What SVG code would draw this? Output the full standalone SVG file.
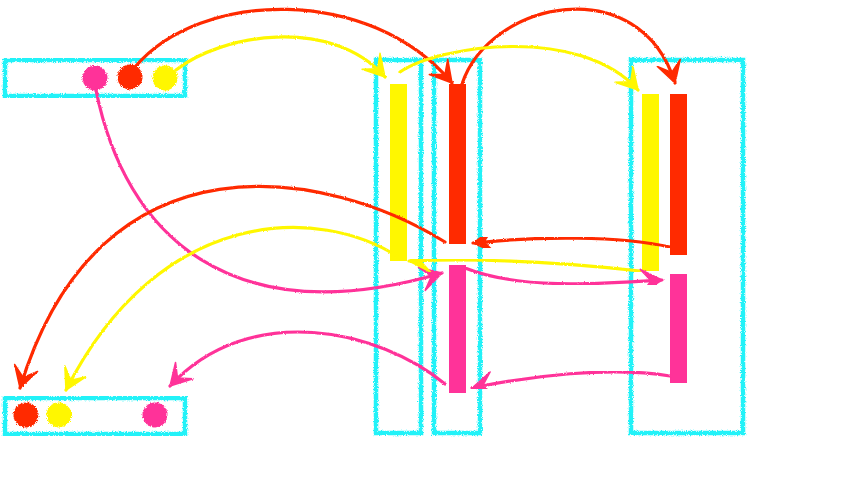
<svg xmlns="http://www.w3.org/2000/svg" width="850" height="488" viewBox="0 0 850 488">
<defs>
<filter id="rough" x="-5%" y="-5%" width="110%" height="110%">
<feTurbulence type="fractalNoise" baseFrequency="1.2" numOctaves="2" seed="3" result="n"/>
<feDisplacementMap in="SourceGraphic" in2="n" scale="4" xChannelSelector="R" yChannelSelector="G"/>
</filter>
<filter id="roughline" x="-5%" y="-5%" width="110%" height="110%">
<feTurbulence type="fractalNoise" baseFrequency="0.9" numOctaves="2" seed="7" result="n"/>
<feDisplacementMap in="SourceGraphic" in2="n" scale="2.2" xChannelSelector="R" yChannelSelector="G"/>
</filter>
<marker id="ar" viewBox="-25 -15 28 30" refX="0" refY="0" markerWidth="28" markerHeight="30" markerUnits="userSpaceOnUse" orient="auto">
<path d="M0,0 L-21,-12 L-11,0 L-21,12 Z" fill="#ff2a00" stroke="#ff2a00" stroke-width="1.5" stroke-linejoin="round"/>
</marker>
<marker id="ay" viewBox="-25 -15 28 30" refX="0" refY="0" markerWidth="28" markerHeight="30" markerUnits="userSpaceOnUse" orient="auto">
<path d="M0,0 L-21,-12 L-11,0 L-21,12 Z" fill="#fff700" stroke="#fff700" stroke-width="1.5" stroke-linejoin="round"/>
</marker>
<marker id="ap" viewBox="-25 -15 28 30" refX="0" refY="0" markerWidth="28" markerHeight="30" markerUnits="userSpaceOnUse" orient="auto">
<path d="M0,0 L-21,-12 L-11,0 L-21,12 Z" fill="#ff3399" stroke="#ff3399" stroke-width="1.5" stroke-linejoin="round"/>
</marker>
</defs>
<style>
.box{fill:none;stroke:#22f2f8;stroke-width:4.5;filter:url(#rough)}
.red{fill:#ff2a00}
.yel{fill:#fff700}
.pnk{fill:#ff3399}
.dot{filter:url(#rough)}
.c{fill:none;stroke-width:3.2;stroke-linecap:round;filter:url(#roughline)}
.cr{stroke:#ff2a00;marker-end:url(#ar)}
.cy{stroke:#fff700;marker-end:url(#ay)}
.cp{stroke:#ff3399;marker-end:url(#ap)}
</style>
<rect width="850" height="488" fill="#ffffff"/>

<g id="source">
<rect class="box" x="5" y="60" width="180" height="36"/>
<circle class="pnk dot" cx="95" cy="78" r="12.5"/>
<circle class="red dot" cx="130" cy="77" r="12.5"/>
<circle class="yel dot" cx="165" cy="78" r="12.5"/>
</g>

<g id="target">
<rect class="box" x="5" y="398" width="180" height="36"/>
<circle class="red dot" cx="26" cy="415" r="12.5"/>
<circle class="yel dot" cx="59" cy="415" r="12.5"/>
<circle class="pnk dot" cx="155" cy="415" r="12.5"/>
</g>

<g id="columnA">
<rect class="box" x="376" y="60" width="45" height="373"/>
<rect class="yel" x="390" y="84" width="17" height="177"/>
</g>

<g id="columnB">
<rect class="box" x="434" y="60" width="46" height="373"/>
<rect class="red" x="449" y="84" width="17" height="160"/>
<rect class="pnk" x="449" y="265" width="17" height="128"/>
</g>

<g id="columnC">
<rect class="box" x="631" y="60" width="112" height="373"/>
<rect class="yel" x="642" y="94" width="17" height="177"/>
<rect class="red" x="670" y="94" width="17" height="161"/>
<rect class="pnk" x="670" y="274" width="17" height="109"/>
</g>

<g id="connectors">
<path class="c cr" d="M135,67 C200,-10 370,-15 452,83"/>
<path class="c cy" d="M176,70 C220,35 330,15 385,77"/>
<path class="c cr" d="M462,84 C490,0 640,-30 675,83"/>
<path class="c cy" d="M400,72 C440,45 580,25 638,90"/>
<path class="c cp" d="M96,90 C125,235 230,335 442,273"/>
<path class="c cr" d="M445,242 C330,170 100,125 20,388"/>
<path class="c cy" d="M400,258 C320,205 160,205 66,390"/>
<path class="c cr" d="M670,247 C620,236 540,236 473,243"/>
<path class="c cy" d="M640,271 C560,262 480,258 409,261"/>
<path class="c cp" d="M465,268 C520,290 600,284 662,280"/>
<path class="c cp" d="M670,376 C610,366 530,376 472,388"/>
<path class="c cp" d="M445,384 C380,330 250,300 170,386"/>
</g>
</svg>
